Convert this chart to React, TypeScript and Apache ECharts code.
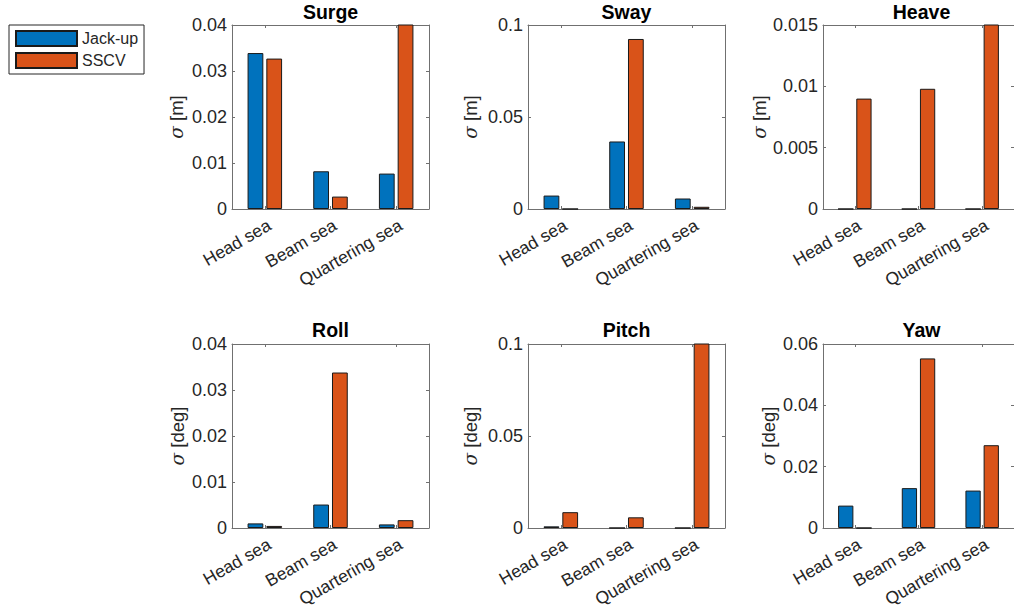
import React, { useEffect, useRef } from "react";
import * as echarts from "echarts";

const categories = ["Head sea", "Beam sea", "Quartering sea"];
const seriesNames = ["Jack-up", "SSCV"];

const surgeJack = [0.0339, 0.0082, 0.0077];
const surgeSSCV = [0.0327, 0.0027, 0.0405];
const swayJack = [0.0073, 0.0367, 0.0057];
const swaySSCV = [0, 0.0924, 0.0012];
const heaveJack = [0, 0, 0];
const heaveSSCV = [0.009, 0.0098, 0.0155];
const rollJack = [0.001, 0.0051, 0.00078];
const rollSSCV = [0.00045, 0.0338, 0.0017];
const pitchJack = [0.0009, 0, 0];
const pitchSSCV = [0.0086, 0.0058, 0.104];
const yawJack = [0.0073, 0.013, 0.0122];
const yawSSCV = [0, 0.0553, 0.027];

const titles = ["Surge", "Sway", "Heave", "Roll", "Pitch", "Yaw"];
const units = ["m", "m", "m", "deg", "deg", "deg"];
const yMax = [0.04, 0.1, 0.015, 0.04, 0.1, 0.06];
const yInterval = [0.01, 0.05, 0.005, 0.01, 0.05, 0.02];
const jackData = [surgeJack, swayJack, heaveJack, rollJack, pitchJack, yawJack];
const sscvData = [surgeSSCV, swaySSCV, heaveSSCV, rollSSCV, pitchSSCV, yawSSCV];

const FONT = "'Liberation Sans', Arial, Helvetica, sans-serif";
const AXIS = "#707070";
const TXT = "#262626";
const COLORS = ["#0072BD", "#D95319"];

const lefts = [232, 528, 823];
const tops = [25, 344];
const W = 197;
const H = 184;
const nameGaps = [46, 48, 54, 45, 48, 45];

export default function App() {
  const ref = useRef<HTMLDivElement>(null);
  useEffect(() => {
    if (!ref.current) return;
    const chart = echarts.init(ref.current, undefined, { renderer: "svg" });
    const grid: any[] = [];
    const xAxis: any[] = [];
    const yAxis: any[] = [];
    const series: any[] = [];
    const title: any[] = [];
    titles.forEach((t, i) => {
      const col = i % 3;
      const row = Math.floor(i / 3);
      grid.push({ left: lefts[col], top: tops[row], width: W, height: H, show: false });
      title.push({
        text: t,
        left: lefts[col] + W / 2,
        top: row === 0 ? 2 : 320,
        textAlign: "center",
        padding: 0,
        textStyle: { fontSize: 19.5, fontWeight: "bold", color: "#000", fontFamily: FONT },
      });
      const tick = { show: true, inside: true, length: 3, lineStyle: { color: AXIS, width: 1 } };
      const line = { show: true, onZero: false, lineStyle: { color: AXIS, width: 1 } };
      xAxis.push({
        type: "category",
        gridIndex: i,
        data: categories,
        position: "bottom",
        axisLine: line,
        axisTick: { ...tick, alignWithLabel: true },
        axisLabel: {
          rotate: 30,
          interval: 0,
          fontSize: 17.5,
          color: TXT,
          margin: 7,
          align: "right",
          verticalAlign: "top",
          fontFamily: FONT,
        },
        splitLine: { show: false },
      });
      xAxis.push({
        type: "category",
        gridIndex: i,
        data: categories,
        position: "top",
        axisLine: line,
        axisTick: { ...tick, alignWithLabel: true },
        axisLabel: { show: false },
        splitLine: { show: false },
      });
      yAxis.push({
        type: "value",
        gridIndex: i,
        min: 0,
        max: yMax[i],
        interval: yInterval[i],
        position: "left",
        axisLine: line,
        axisTick: tick,
        axisLabel: { fontSize: 18, color: TXT, margin: 5, fontFamily: FONT },
        splitLine: { show: false },
        name: `{s|σ} [${units[i]}]`,
        nameLocation: "middle",
        nameGap: nameGaps[i],
        nameRotate: 90,
        nameTextStyle: {
          fontSize: 18.5,
          color: TXT,
          fontFamily: FONT,
          rich: { s: { fontSize: 18.5, fontStyle: "italic", color: TXT, fontFamily: "'DejaVu Serif', serif" } },
        },
      });
      yAxis.push({
        type: "value",
        gridIndex: i,
        min: 0,
        max: yMax[i],
        interval: yInterval[i],
        position: "right",
        axisLine: line,
        axisTick: tick,
        axisLabel: { show: false },
        splitLine: { show: false },
      });
      [jackData[i], sscvData[i]].forEach((d, k) => {
        series.push({
          type: "bar",
          name: seriesNames[k],
          xAxisIndex: 2 * i,
          yAxisIndex: 2 * i,
          data: d,
          barWidth: "24%",
          barGap: "19%",
          clip: true,
          itemStyle: { color: COLORS[k], borderColor: "#1a1a1a", borderWidth: 1 },
        });
      });
    });
    chart.setOption({
      animation: false,
      backgroundColor: "#fff",
      title,
      grid,
      xAxis,
      yAxis,
      series,
      legend: {
        data: seriesNames,
        orient: "vertical",
        left: 9,
        top: 25,
        padding: [5, 6, 5, 6],
        itemGap: 5,
        itemWidth: 61,
        itemHeight: 15,
        icon: "rect",
        borderColor: "#262626",
        borderWidth: 1,
        backgroundColor: "#fff",
        textStyle: { fontSize: 16, color: TXT, fontFamily: FONT },
      },
    });
    return () => chart.dispose();
  }, []);
  return <div ref={ref} style={{ position: "absolute", left: 0, top: 0, width: 1014, height: 614 }} />;
}
